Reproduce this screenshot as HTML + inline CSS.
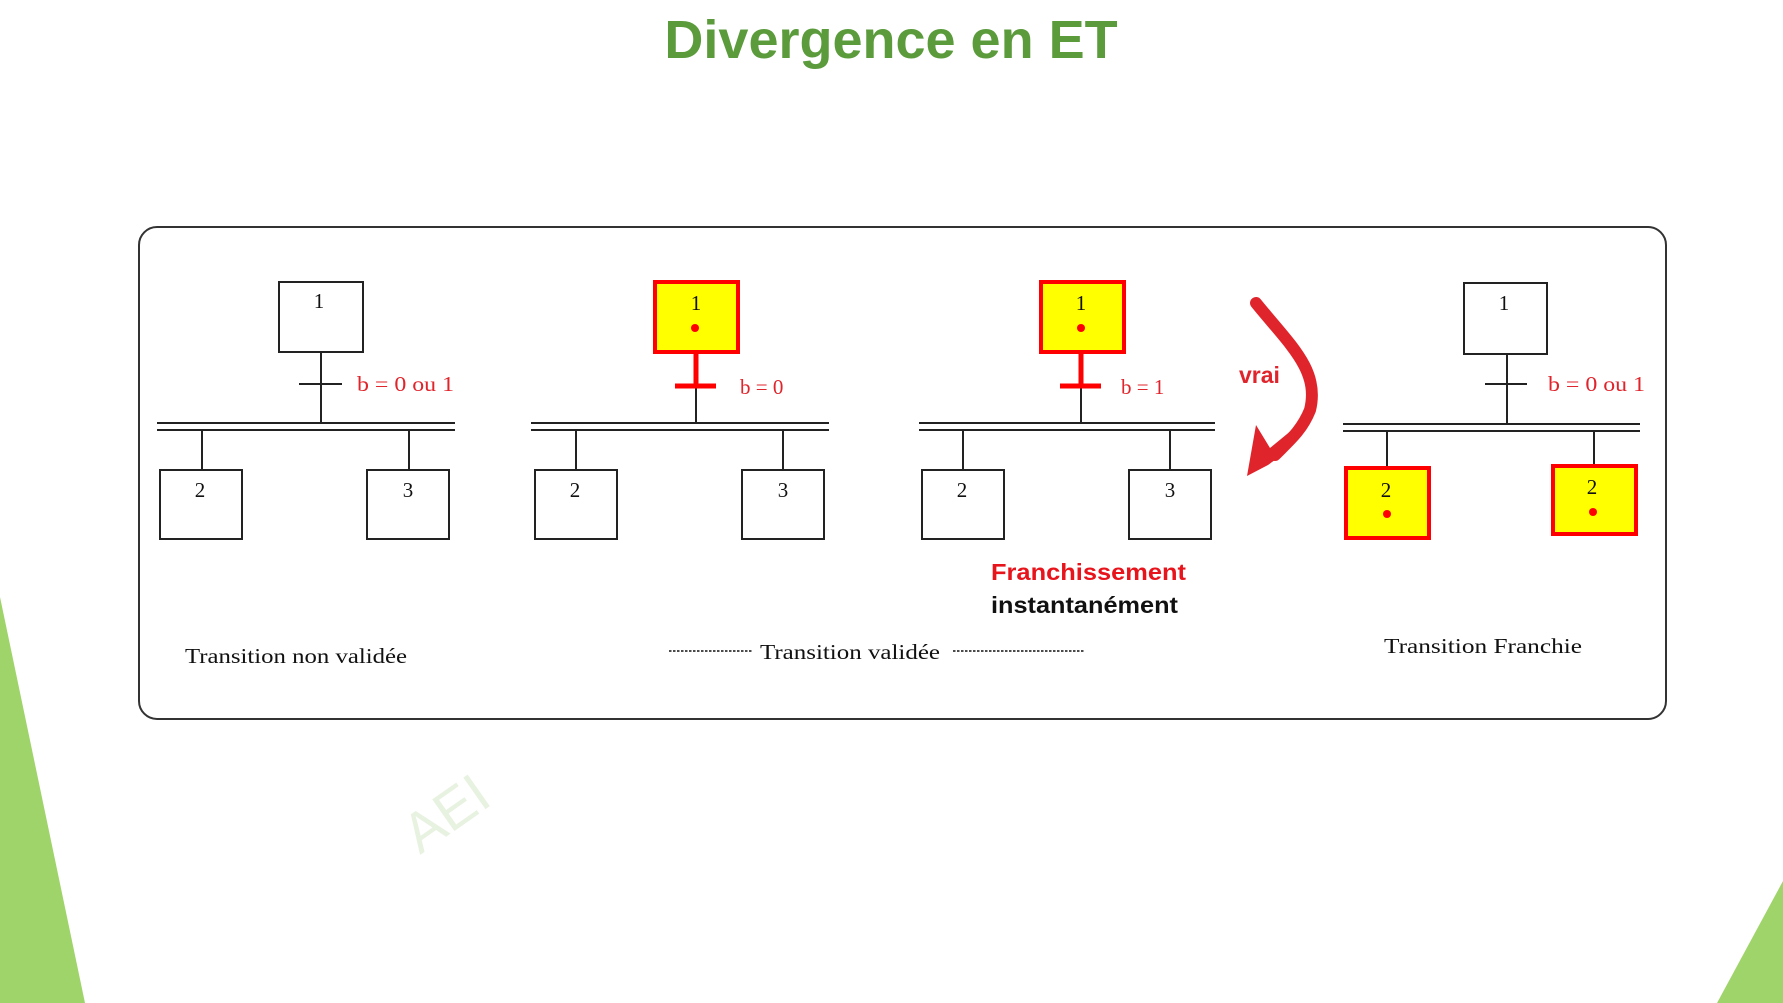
<!DOCTYPE html>
<html><head><meta charset="utf-8"><style>
html,body{margin:0;padding:0;background:#fff;width:1783px;height:1003px;overflow:hidden}
svg{display:block}
.s{font-family:"Liberation Serif",serif;font-size:21px}
.r{fill:#e0242b}
</style></head><body>
<svg width="1783" height="1003" viewBox="0 0 1783 1003" xmlns="http://www.w3.org/2000/svg">
<polygon points="0,597 85,1003 0,1003" fill="#9fd46a"/>
<polygon points="1783,881 1783,1003 1717,1003" fill="#9fd46a"/>
<text x="891" y="58" text-anchor="middle" font-family="Liberation Sans,sans-serif" font-weight="bold" font-size="54" fill="#5b9b3c">Divergence en ET</text>
<text x="420" y="855" font-family="Liberation Sans,sans-serif" font-size="56" fill="#e8f2e0" transform="rotate(-35 420 855)">AEI</text>
<rect x="139" y="227" width="1527" height="492" rx="18" fill="#fff" stroke="#333" stroke-width="2"/>

<g stroke="#222" stroke-width="2" fill="#fff">
<rect x="279" y="282" width="84" height="70"/>
<line x1="321" y1="352" x2="321" y2="422"/><line x1="299" y1="384" x2="342" y2="384"/>
<line x1="157" y1="423" x2="455" y2="423"/><line x1="157" y1="430" x2="455" y2="430"/>
<line x1="202" y1="431" x2="202" y2="470"/><line x1="409" y1="431" x2="409" y2="470"/>
<rect x="160" y="470" width="82" height="69"/><rect x="367" y="470" width="82" height="69"/>
<line x1="696" y1="386" x2="696" y2="422"/>
<line x1="531" y1="423" x2="829" y2="423"/><line x1="531" y1="430" x2="829" y2="430"/>
<line x1="576" y1="431" x2="576" y2="470"/><line x1="783" y1="431" x2="783" y2="470"/>
<rect x="535" y="470" width="82" height="69"/><rect x="742" y="470" width="82" height="69"/>
<line x1="1081" y1="386" x2="1081" y2="422"/>
<line x1="919" y1="423" x2="1215" y2="423"/><line x1="919" y1="430" x2="1215" y2="430"/>
<line x1="963" y1="431" x2="963" y2="470"/><line x1="1170" y1="431" x2="1170" y2="470"/>
<rect x="922" y="470" width="82" height="69"/><rect x="1129" y="470" width="82" height="69"/>
<rect x="1464" y="283" width="83" height="71"/>
<line x1="1507" y1="354" x2="1507" y2="423"/><line x1="1485" y1="384" x2="1527" y2="384"/>
<line x1="1343" y1="424" x2="1640" y2="424"/><line x1="1343" y1="431" x2="1640" y2="431"/>
<line x1="1387" y1="432" x2="1387" y2="467"/><line x1="1594" y1="432" x2="1594" y2="465"/>
</g>
<g fill="#ffff00" stroke="#f00" stroke-width="4">
<rect x="655" y="282" width="83" height="70"/>
<rect x="1041" y="282" width="83" height="70"/>
<rect x="1346" y="468" width="83" height="70"/>
<rect x="1553" y="466" width="83" height="68"/>
</g>
<g stroke="#f00" stroke-width="5">
<line x1="696" y1="354" x2="696" y2="386"/><line x1="675" y1="386" x2="716" y2="386"/>
<line x1="1081" y1="354" x2="1081" y2="386"/><line x1="1060" y1="386" x2="1101" y2="386"/>
</g>
<g fill="#f00"><circle cx="695" cy="328" r="4"/><circle cx="1081" cy="328" r="4"/><circle cx="1387" cy="514" r="4"/><circle cx="1593" cy="512" r="4"/></g>
<g class="s" text-anchor="middle" fill="#111" font-size="19">
<text x="319" y="308">1</text><text x="200" y="497">2</text><text x="408" y="497">3</text>
<text x="696" y="310">1</text><text x="575" y="497">2</text><text x="783" y="497">3</text>
<text x="1081" y="310">1</text><text x="962" y="497">2</text><text x="1170" y="497">3</text>
<text x="1504" y="310">1</text><text x="1386" y="497">2</text><text x="1592" y="494">2</text>
</g>
<g class="s r" font-size="22">
<text x="357" y="391" textLength="97" lengthAdjust="spacingAndGlyphs">b = 0 ou 1</text>
<text x="740" y="394">b = 0</text>
<text x="1121" y="394">b = 1</text>
<text x="1548" y="391" textLength="97" lengthAdjust="spacingAndGlyphs">b = 0 ou 1</text>
</g>
<g class="s" fill="#111" font-size="22">
<text x="185" y="663" textLength="222" lengthAdjust="spacingAndGlyphs">Transition non validée</text>
<text x="760" y="659" textLength="180" lengthAdjust="spacingAndGlyphs">Transition validée</text>
<text x="1384" y="653" textLength="198" lengthAdjust="spacingAndGlyphs">Transition Franchie</text>
</g>
<g stroke="#111" stroke-width="1.5" stroke-dasharray="2.5,1.5">
<line x1="669" y1="651" x2="752" y2="651"/><line x1="953" y1="651" x2="1084" y2="651"/>
</g>
<text x="991" y="580" font-family="Liberation Sans,sans-serif" font-weight="bold" font-size="23" textLength="195" lengthAdjust="spacingAndGlyphs" fill="#e8141c">Franchissement</text>
<text x="991" y="613" font-family="Liberation Sans,sans-serif" font-weight="bold" font-size="23" textLength="187" lengthAdjust="spacingAndGlyphs" fill="#111">instantanément</text>
<text x="1239" y="383" font-family="Liberation Sans,sans-serif" font-weight="bold" font-size="23" fill="#e0242b">vrai</text>
<path d="M1256,303 C1290,345 1320,370 1310,410 C1302,430 1290,440 1275,455" fill="none" stroke="#e0242b" stroke-width="12" stroke-linecap="round"/>
<polygon points="1247,476 1256,425 1270,448 1298,425 1286,452 1268,465" fill="#e0242b"/>
</svg>
</body></html>
